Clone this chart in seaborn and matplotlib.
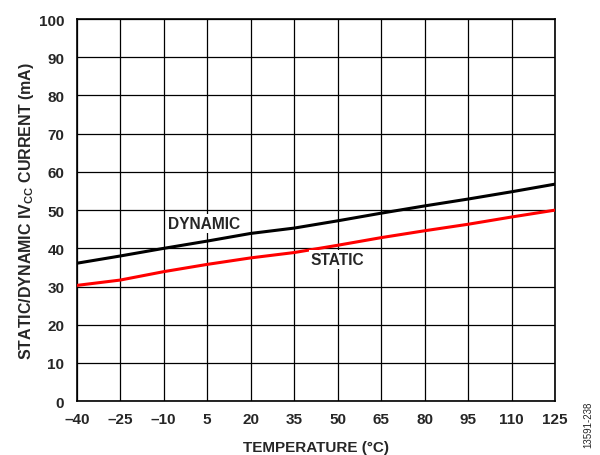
import numpy as np
import pandas as pd
import seaborn as sns
import matplotlib.pyplot as plt

temps = [-40, -25, -10, 5, 20, 35, 50, 65, 80, 95, 110, 125]
dynamic = [36.1, 38.0, 40.0, 41.9, 43.9, 45.3, 47.2, 49.2, 51.1, 52.9, 54.8, 56.8]
static = [30.3, 31.7, 33.9, 35.8, 37.5, 38.9, 40.8, 42.8, 44.6, 46.3, 48.2, 50.0]
xticks = [-40, -25, -10, 5, 20, 35, 50, 65, 80, 95, 110, 125]
yticks = list(range(0, 101, 10))

df = pd.DataFrame({
    'temp': temps * 2,
    'current': dynamic + static,
    'series': ['DYNAMIC'] * len(temps) + ['STATIC'] * len(temps),
})

sns.set_style('white')
plt.rcParams['font.family'] = ['Liberation Sans', 'DejaVu Sans']
plt.rcParams['mathtext.fontset'] = 'custom'
plt.rcParams['mathtext.bf'] = 'Liberation Sans:bold'
plt.rcParams['mathtext.rm'] = 'Liberation Sans:bold'

fig = plt.figure(figsize=(6, 4.56), dpi=100)
ax = fig.add_axes([0.128, 0.118, 0.797, 0.838])

sns.lineplot(data=df, x='temp', y='current', hue='series',
             palette={'DYNAMIC': 'black', 'STATIC': '#ff0000'},
             linewidth=2.2, legend=False, ax=ax, zorder=3)

ax.set_xlim(-40, 125)
ax.set_ylim(0, 100)
ax.set_xticks(xticks)
ax.set_xticklabels([str(t).replace('-', '\u2013') for t in xticks])
ax.set_yticks(yticks)
ax.grid(True, color='black', linewidth=0.9)
for s in ax.spines.values():
    s.set_color('black')
    s.set_linewidth(1.2)
ax.tick_params(length=0, labelsize=11)
ax.tick_params(axis='x', pad=8)
ax.tick_params(axis='y', pad=9)
for lab in ax.get_xticklabels() + ax.get_yticklabels():
    lab.set_fontweight('bold')

ax.set_xlabel('TEMPERATURE (°C)', fontsize=11, fontweight='bold', labelpad=10)
ax.set_ylabel(r'STATIC/DYNAMIC IV$_\mathbf{CC}$ CURRENT (mA)', fontsize=11.5,
              fontweight='bold', labelpad=2)

box = dict(facecolor='white', edgecolor='none', pad=1.5)
ax.text(4, 46.5, 'DYNAMIC', ha='center', va='center', fontsize=11.2,
        fontweight='bold', bbox=box, zorder=4)
ax.text(50, 37.0, 'STATIC', ha='center', va='center', fontsize=11.2,
        fontweight='bold', bbox=box, zorder=4)

fig.text(0.981, 0.018, '13591-238', rotation=90, fontsize=7,
         ha='center', va='bottom')

fig.savefig('out.png', dpi=100)
